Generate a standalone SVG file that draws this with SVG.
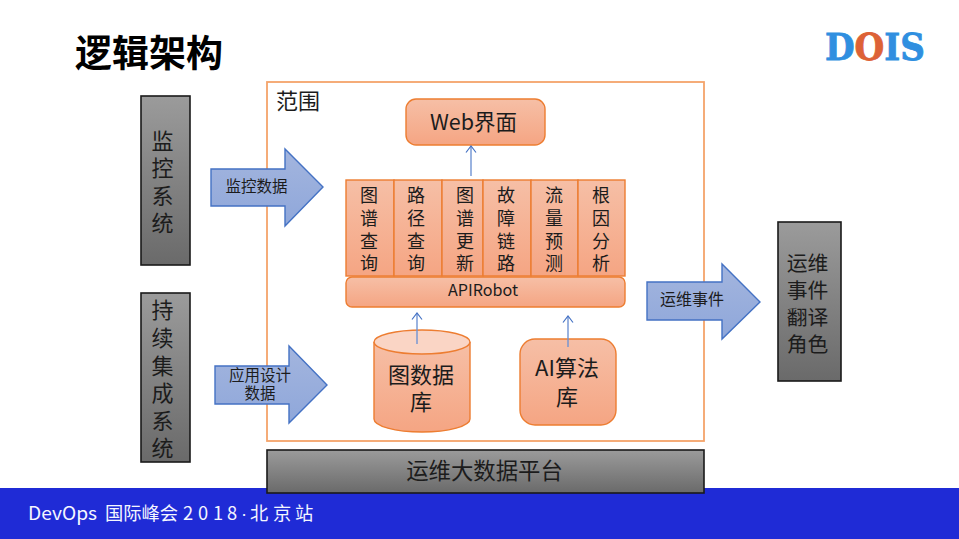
<svg xmlns="http://www.w3.org/2000/svg" width="959" height="539" viewBox="0 0 959 539">
<defs>
<linearGradient id="g" x1="0" y1="0" x2="0" y2="1"><stop offset="0" stop-color="#9b9b9b"/><stop offset="1" stop-color="#6a6a6a"/></linearGradient>
<linearGradient id="o" x1="0" y1="0" x2="0" y2="1"><stop offset="0" stop-color="#f6bfa6"/><stop offset="1" stop-color="#f5a583"/></linearGradient>
<linearGradient id="b" x1="0" y1="0" x2="0" y2="1"><stop offset="0" stop-color="#a3b5de"/><stop offset="1" stop-color="#8fa7da"/></linearGradient>
<marker id="a" markerUnits="userSpaceOnUse" markerWidth="12" markerHeight="12" refX="8" refY="6" orient="auto" viewBox="0 0 12 12"><path d="M1.5 1L8 6L1.5 11" fill="none" stroke="#4472c4" stroke-width="1.2"/></marker>
</defs>
<style>
text{font-family:"Noto Sans CJK SC","Noto Sans",sans-serif;text-anchor:middle;fill:#1c1c1c}
.gr{fill:url(#g);stroke:#1a1a1a;stroke-width:1.6}
.or{fill:url(#o);stroke:#ed7d31;stroke-width:1.4}
.ar{fill:url(#b);stroke:#4472c4;stroke-width:1.4}
.t20{font-size:22px}
.t21{font-size:20.8px}
.t17{font-size:18px}
.t14{font-size:15.5px}
.c{stroke:#6f93d3;stroke-width:1.4;fill:none;marker-end:url(#a)}
.ft{font-size:18.3px;text-anchor:start;fill:#f4f6ff}
.lg{font-family:"DejaVu Serif",serif;font-weight:700;font-size:37px;text-anchor:start;stroke-width:.8}
</style>
<rect width="959" height="539" fill="#fff"/>
<rect id="footer" x="0" y="488" width="959" height="51" fill="#1f2bd6"/>
<text class="ft" y="520"><tspan x="28" textLength="69" lengthAdjust="spacingAndGlyphs">DevOps</tspan><tspan x="105">国际峰会</tspan><tspan x="183">2</tspan><tspan x="198">0</tspan><tspan x="213">1</tspan><tspan x="227">8</tspan><tspan x="241" style="font-family:'Liberation Sans',sans-serif">·</tspan><tspan x="250">北</tspan><tspan x="273">京</tspan><tspan x="295">站</tspan></text>
<text id="title" x="75" y="67" style="font-size:37px;font-weight:700;text-anchor:start;fill:#000">逻辑架构</text>
<g id="logo"><text class="lg" x="825" y="60" textLength="100" lengthAdjust="spacingAndGlyphs" stroke="#2f8fe0" style="fill:#2f8fe0">D<tspan style="fill:#dd6236" stroke="#dd6236">O</tspan>IS</text></g>
<g id="scope"><rect x="267" y="82" width="437" height="359" fill="#fff" stroke="#f4a46a" stroke-width="1.8"/>
<text x="298" y="109" class="t20">范围</text></g>
<g id="monitor"><rect class="gr" x="141" y="96" width="49" height="169"/>
<text class="t20"><tspan x="162.5" y="149">监</tspan><tspan x="162.5" y="176">控</tspan><tspan x="162.5" y="204">系</tspan><tspan x="162.5" y="231">统</tspan></text></g>
<g id="ci"><rect class="gr" x="141" y="293" width="49" height="169"/>
<text class="t20"><tspan x="162.5" y="318">持</tspan><tspan x="162.5" y="346">续</tspan><tspan x="162.5" y="374">集</tspan><tspan x="162.5" y="401">成</tspan><tspan x="162.5" y="429">系</tspan><tspan x="162.5" y="456">统</tspan></text></g>
<g id="arrow-monitor"><path class="ar" d="M211 169H285V149L323 187L285 226V206H211Z"/><text class="t14" x="256.500" y="192">监控数据</text></g>
<g id="arrow-app"><path class="ar" d="M215 366H289V346L327 385L289 423V404H215Z"/><text class="t14"><tspan x="260" y="381">应用设计</tspan><tspan x="260" y="399">数据</tspan></text></g>
<g id="web"><rect class="or" x="406" y="99" width="139" height="46" rx="10"/><text x="473.500" y="130" style="font-size:21.5px">Web界面</text></g>
<g id="modules">
<rect class="or" x="346" y="180" width="48" height="96"/><rect class="or" x="394" y="180" width="48" height="96"/><rect class="or" x="442" y="180" width="41" height="96"/><rect class="or" x="483" y="180" width="48" height="96"/><rect class="or" x="531" y="180" width="47" height="96"/><rect class="or" x="578" y="180" width="47" height="96"/>
<text class="t17"><tspan x="369" y="202">图</tspan><tspan x="369" y="225">谱</tspan><tspan x="369" y="248">查</tspan><tspan x="369" y="270">询</tspan></text>
<text class="t17"><tspan x="416" y="202">路</tspan><tspan x="416" y="225">径</tspan><tspan x="416" y="248">查</tspan><tspan x="416" y="270">询</tspan></text>
<text class="t17"><tspan x="465" y="202">图</tspan><tspan x="465" y="225">谱</tspan><tspan x="465" y="248">更</tspan><tspan x="465" y="270">新</tspan></text>
<text class="t17"><tspan x="506" y="202">故</tspan><tspan x="506" y="225">障</tspan><tspan x="506" y="248">链</tspan><tspan x="506" y="270">路</tspan></text>
<text class="t17"><tspan x="554" y="202">流</tspan><tspan x="554" y="225">量</tspan><tspan x="554" y="248">预</tspan><tspan x="554" y="270">测</tspan></text>
<text class="t17"><tspan x="601" y="202">根</tspan><tspan x="601" y="225">因</tspan><tspan x="601" y="248">分</tspan><tspan x="601" y="270">析</tspan></text>
</g>
<g id="apirobot"><rect class="or" x="346" y="277" width="279" height="30" rx="6"/><text x="483" y="296" style="font-size:15.500px" textLength="70" lengthAdjust="spacingAndGlyphs">APIRobot</text></g>
<g id="graphdb"><path class="or" d="M374 342V419C374 426 395 432 422 432S470 426 470 419V342"/><ellipse cx="422" cy="342" rx="48" ry="12" fill="#fad5c5" stroke="#ed7d31" stroke-width="1.4"/>
<text class="t20"><tspan x="421" y="383">图数据</tspan><tspan x="421" y="410">库</tspan></text></g>
<g id="ailib"><rect class="or" x="520" y="339" width="96" height="86" rx="15"/><text class="t20"><tspan x="567" y="376">AI算法</tspan><tspan x="567" y="405">库</tspan></text></g>
<g id="platform"><rect class="gr" x="267" y="450" width="437" height="43"/><text x="484.500" y="479" style="font-size:22.4px">运维大数据平台</text></g>
<g id="arrow-ops"><path class="ar" d="M647 282H722V264L760 302L722 339V320H647Z"/><text x="692" y="305" style="font-size:16px">运维事件</text></g>
<g id="ops-role"><rect class="gr" x="778" y="222" width="63" height="159"/>
<text class="t21"><tspan x="807.500" y="271">运维</tspan><tspan x="807.500" y="298">事件</tspan><tspan x="807.500" y="325">翻译</tspan><tspan x="807.500" y="352">角色</tspan></text></g>
<g id="connectors">
<path class="c" d="M471 176V146"/><path class="c" d="M417 344V313"/><path class="c" d="M568 347V316"/>
</g>
</svg>
